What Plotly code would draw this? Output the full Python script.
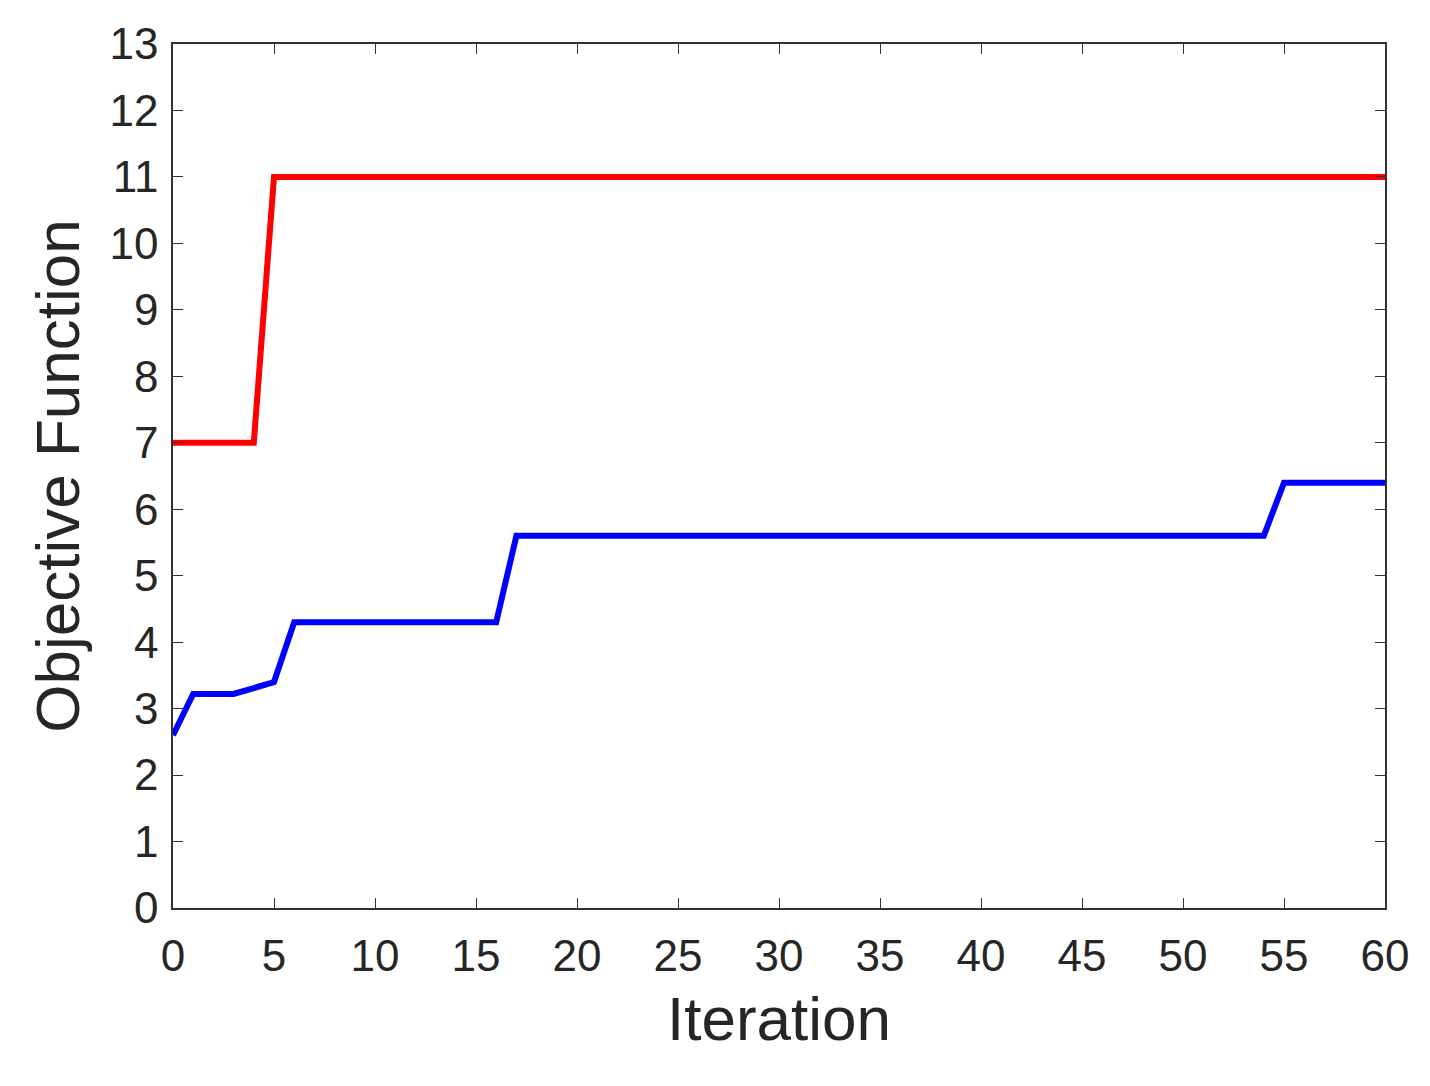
import plotly.graph_objects as go

red_x = [0, 1, 2, 3, 4, 5] + list(range(6, 61))
red_y = [7, 7, 7, 7, 7, 11] + [11] * 55
blue_x = [0, 1, 2, 3, 4, 5, 6, 16, 17, 54, 55, 60]
blue_y = [2.6, 3.22, 3.22, 3.22, 3.31, 3.4, 4.3, 4.3, 5.6, 5.6, 6.4, 6.4]

fig = go.Figure()
fig.add_trace(go.Scatter(x=red_x, y=red_y, mode="lines", line=dict(color="#ff0000", width=6)))
fig.add_trace(go.Scatter(x=blue_x, y=blue_y, mode="lines", line=dict(color="#0000ff", width=6)))

ax = dict(showgrid=False, zeroline=False, showline=True, linecolor="#333", linewidth=1.5,
          mirror="ticks", ticks="inside", ticklen=10, tickcolor="#333",
          tickfont=dict(size=44, color="#262626", family="Liberation Sans"))
fig.update_xaxes(range=[0, 60], dtick=5, ticklabelstandoff=8,
                 title=dict(text="Iteration", font=dict(size=62, color="#262626", family="Liberation Sans"), standoff=18), **ax)
fig.update_yaxes(range=[0, 13], dtick=1, ticklabelstandoff=4,
                 title=dict(text="Objective Function", font=dict(size=62, color="#262626", family="Liberation Sans"), standoff=10), **ax)
fig.update_layout(width=1430, height=1086, margin=dict(l=165, r=53, t=36, b=186),
                  plot_bgcolor="white", paper_bgcolor="white", showlegend=False)
fig.write_html("out.html")
